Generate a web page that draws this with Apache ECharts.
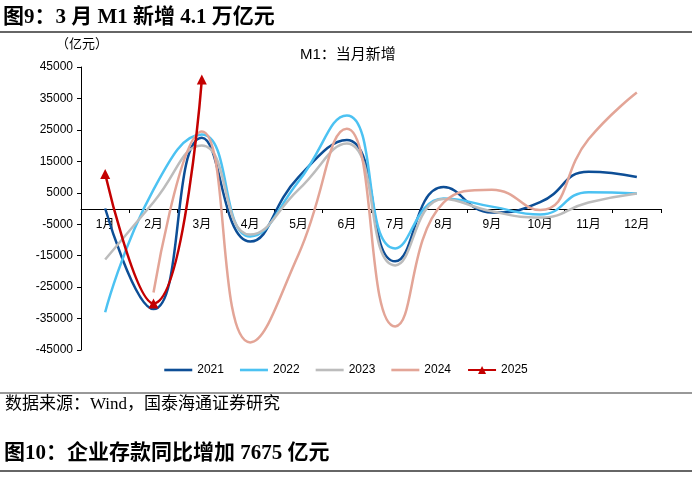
<!DOCTYPE html>
<html>
<head>
<meta charset="utf-8">
<script src="https://cdn.jsdelivr.net/npm/echarts@6/dist/echarts.min.js"></script>
<style>
  html, body { margin: 0; padding: 0; background: #fff; }
  #chart { width: 692px; height: 482px; }
</style>
</head>
<body>
<div id="chart"></div>
<script>
const months = ['1月', '2月', '3月', '4月', '5月', '6月', '7月', '8月', '9月', '10月', '11月', '12月'];

const m1_2021 = [0, -32000, 22500, -10500, 10000, 21800, -16800, 6800, -1300, 2000, 11700, 10000];
const m1_2022 = [-33000, 6000, 23500, -8900, 8600, 29600, -12700, 3200, 600, -1900, 5200, 4800];
const m1_2023 = [-16200, 2000, 20000, -8300, 6000, 20700, -18100, 3000, -900, -2900, 1900, 4800];
const m1_2024 = [null, -26700, 24500, -42600, -14600, 25400, -37500, 1900, 6000, -500, 22000, 36900];
const m1_2025 = [11000, -30200, 41000];

const yearColors = {
  '2021': '#0D4E96',
  '2022': '#4CC2F2',
  '2023': '#BCBCBC',
  '2024': '#E3A597',
  '2025': '#C40000'
};

const chart = echarts.init(document.getElementById('chart'), null, { renderer: 'canvas' });

const serif = '"Liberation Serif", "Noto Sans CJK SC", serif';
const sans = '"Liberation Sans", "Noto Sans CJK SC", sans-serif';

// plain bar icon for the lines without markers
const lineIcon = 'path://M0,0H28V2.6H0Z';

function lineSeries(name, data) {
  return {
    name: name,
    type: 'line',
    data: data,
    smooth: 0.5,
    symbol: 'none',
    lineStyle: { width: 2.5, color: yearColors[name] },
    itemStyle: { color: yearColors[name] },
    z: 2
  };
}

const option = {
  backgroundColor: '#fff',
  animation: false,
  textStyle: { fontFamily: sans },
  graphic: [
    {
      type: 'text', left: 3, top: 7,
      style: { text: '图9：3 月 M1 新增 4.1 万亿元', font: 'bold 21px ' + serif, fill: '#000' }
    },
    {
      type: 'line', shape: { x1: 0, y1: 32, x2: 692, y2: 32 },
      style: { stroke: '#333', lineWidth: 1.5 }
    },
    {
      type: 'text', left: 56, top: 38,
      style: { text: '（亿元）', font: '13px ' + sans, fill: '#000' }
    },
    {
      type: 'text', left: 300, top: 47,
      style: { text: 'M1：当月新增', font: '15px ' + sans, fill: '#000' }
    },
    {
      type: 'line', shape: { x1: 0, y1: 393, x2: 692, y2: 393 },
      style: { stroke: '#333', lineWidth: 1 }
    },
    {
      type: 'text', left: 5, top: 396,
      style: { text: '数据来源：Wind，国泰海通证券研究', font: '17px ' + serif, fill: '#000' }
    },
    {
      type: 'text', left: 4, top: 443,
      style: { text: '图10：企业存款同比增加 7675 亿元', font: 'bold 21px ' + serif, fill: '#000' }
    },
    {
      type: 'line', shape: { x1: 0, y1: 471, x2: 692, y2: 471 },
      style: { stroke: '#333', lineWidth: 1.5 }
    }
  ],
  legend: {
    bottom: 101,
    left: 'center',
    itemWidth: 28,
    itemHeight: 10,
    itemGap: 16,
    textStyle: { fontSize: 12, color: '#000', fontFamily: sans },
    data: [
      { name: '2021', icon: lineIcon },
      { name: '2022', icon: lineIcon },
      { name: '2023', icon: lineIcon },
      { name: '2024', icon: lineIcon },
      { name: '2025' }
    ]
  },
  grid: { left: 81, right: 31, top: 67, bottom: 132 },
  xAxis: {
    type: 'category',
    data: months,
    boundaryGap: true,
    offset: -141,
    axisLine: { onZero: false, lineStyle: { color: '#000', width: 1 } },
    axisTick: { show: true, length: 4, lineStyle: { color: '#000' } },
    axisLabel: { color: '#000', fontSize: 12, margin: 10, fontFamily: sans },
    splitLine: { show: false }
  },
  yAxis: {
    type: 'value',
    min: -45000,
    max: 45000,
    interval: 10000,
    axisLine: { show: true, lineStyle: { color: '#000', width: 1 } },
    axisTick: { show: true, length: 4, lineStyle: { color: '#000' } },
    axisLabel: {
      color: '#000', fontSize: 12, margin: 8, fontFamily: sans,
      formatter: v => String(v)
    },
    splitLine: { show: false }
  },
  series: [
    lineSeries('2021', m1_2021),
    lineSeries('2022', m1_2022),
    lineSeries('2023', m1_2023),
    lineSeries('2024', m1_2024),
    {
      name: '2025',
      type: 'line',
      data: m1_2025,
      smooth: 0.5,
      symbol: 'triangle',
      symbolSize: 10,
      lineStyle: { width: 2.5, color: yearColors['2025'] },
      itemStyle: { color: yearColors['2025'] },
      z: 5
    }
  ]
};

chart.setOption(option);
</script>
</body>
</html>
